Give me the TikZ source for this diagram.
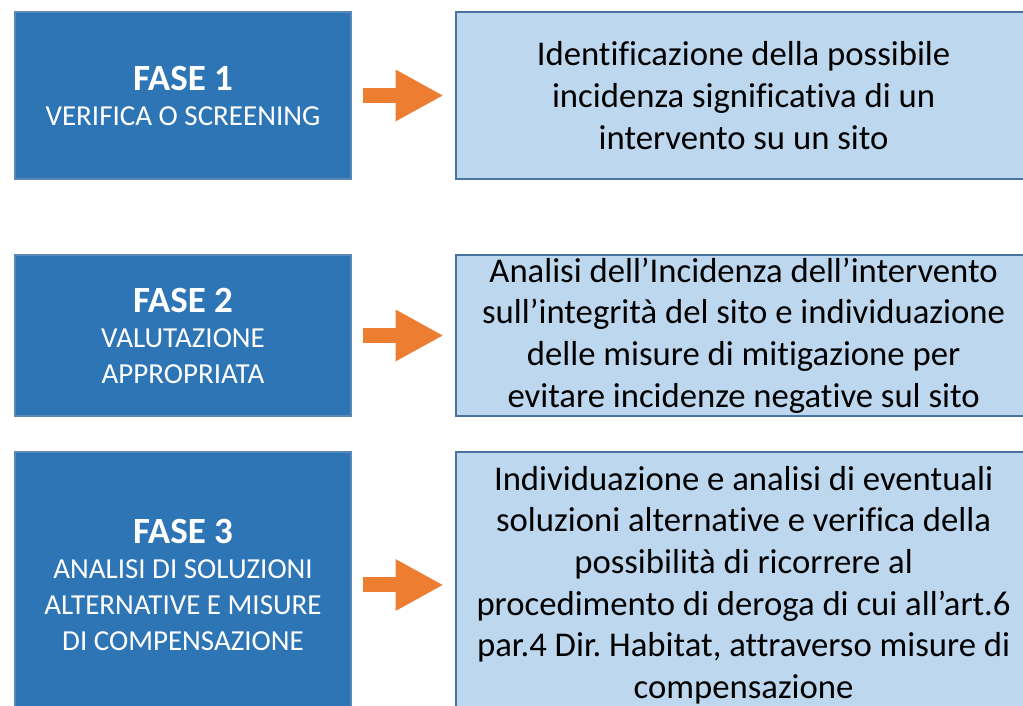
\documentclass[tikz,border=0pt]{standalone}
\usepackage{fontspec}
\setmainfont{Carlito}[Ligatures=NoCommon]
\usetikzlibrary{arrows.meta,positioning}
\definecolor{faseblu}{HTML}{2E75B6}
\definecolor{bordofase}{HTML}{5B87B8}
\definecolor{bordoblu}{HTML}{4A74A0}
\definecolor{azzurro}{HTML}{BDD7EE}
\definecolor{arancio}{HTML}{ED7D31}
\newcommand{\titolofase}[1]{{\fontsize{37}{38}\selectfont\bfseries #1}}
\frenchspacing

\begin{document}
\begin{tikzpicture}[x=1pt,y=1pt,
    fase/.style={draw=bordofase, line width=1.2pt, fill=faseblu, text=white,
        minimum width=336pt, align=center, inner sep=0pt,
        font=\fontsize{29}{36}\selectfont},
    descr/.style={draw=bordoblu, line width=2pt, fill=azzurro, text=black,
        minimum width=576pt, align=center, inner sep=0pt,
        font=\fontsize{34.7}{41.6}\selectfont},
    freccia/.style={draw=arancio, line width=15pt,
        -{Triangle[length=48pt,width=48pt]}}]
\clip (0,0) rectangle (1023,706);
\fill[white] (0,0) rectangle (1023,706);
% fasi
\node[fase, minimum height=167pt] (fase1) at (183,610.5)
    {\titolofase{FASE 1}\\[-1pt]VERIFICA O SCREENING};
\node[fase, minimum height=161pt] (fase2) at (183,370.5)
    {\titolofase{FASE 2}\\[-1pt]VALUTAZIONE\\APPROPRIATA};
\node[fase, minimum height=266pt] (fase3) at (183,121)
    {\titolofase{FASE 3}\\[-1pt]ANALISI DI SOLUZIONI\\ALTERNATIVE E MISURE\\DI COMPENSAZIONE};
% descrizioni
\node[descr, minimum height=167pt, right=103pt of fase1] (desc1)
    {Identificazione della possibile\\incidenza significativa di un\\intervento su un sito};
\node[descr, minimum height=161pt, right=103pt of fase2] (desc2)
    {Analisi dell’Incidenza dell’intervento\\sull’integrità del sito e individuazione\\delle misure di mitigazione per\\evitare incidenze negative sul sito};
\node[descr, minimum height=266pt, right=103pt of fase3] (desc3)
    {Individuazione e analisi di eventuali\\soluzioni alternative e verifica della\\possibilità di ricorrere al\\procedimento di deroga di cui all’art.6\\par.4 Dir. Habitat, attraverso misure di\\compensazione};
% frecce
\draw[freccia] ([xshift=11pt]fase1.east) -- ([xshift=-11pt]desc1.west);
\draw[freccia] ([xshift=11pt]fase2.east) -- ([xshift=-11pt]desc2.west);
\draw[freccia] ([xshift=11pt]fase3.east) -- ([xshift=-11pt]desc3.west);
\end{tikzpicture}
\end{document}
